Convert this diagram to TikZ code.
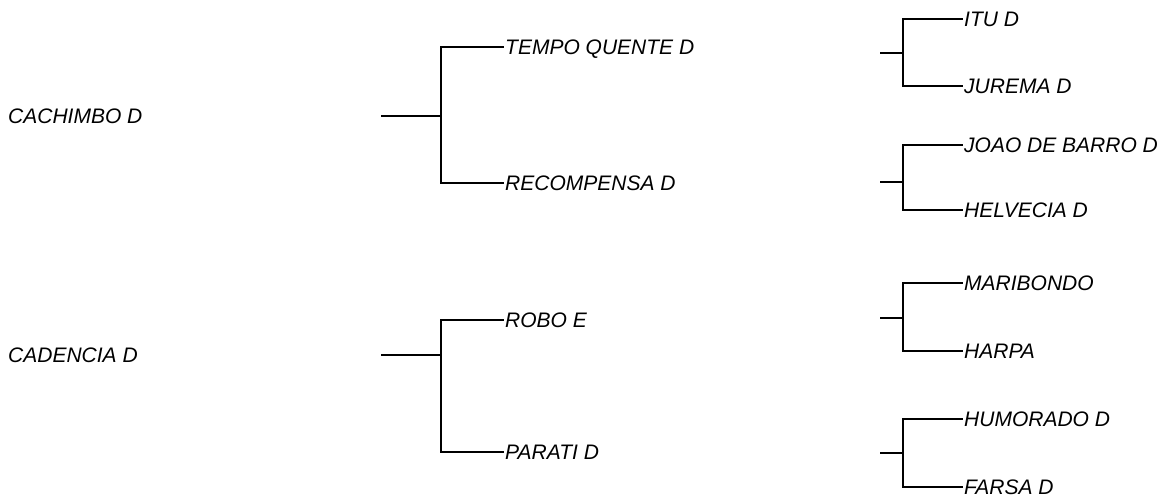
\documentclass[tikz,border=0pt]{standalone}
\usepackage{fontspec}
\setmainfont{Liberation Sans}

\begin{document}
\begin{tikzpicture}[x=1pt, y=-1pt,
        branch/.style={line width=2.8pt, line cap=rect},
        horse/.style={anchor=west, inner xsep=2pt, inner ysep=0pt,
            text height=15pt, text depth=0pt,
            font=\fontsize{21}{24}\selectfont\itshape}]
        \useasboundingbox (0, 0) rectangle (1167, 495);

        \begin{scope}
            \node[horse] (cachimbo) at (6, 116) {CACHIMBO D};
            \node[horse] (cadencia) at (6, 355) {CADENCIA D};

            \node[horse] (tempo)      at (503, 47)  {TEMPO QUENTE D};
            \node[horse] (recompensa) at (503, 183) {RECOMPENSA D};
            \node[horse] (robo)       at (503, 320) {ROBO E};
            \node[horse] (parati)     at (503, 452) {PARATI D};

            \node[horse] (itu)      at (962, 19)  {ITU D};
            \node[horse] (jurema)   at (962, 86)  {JUREMA D};
            \node[horse] (joao)     at (962, 145) {JOAO DE BARRO D};
            \node[horse] (helvecia) at (962, 210) {HELVECIA D};
            \node[horse] (maribondo) at (962, 283) {MARIBONDO};
            \node[horse] (harpa)     at (962, 351) {HARPA};
            \node[horse] (humorado)  at (962, 419) {HUMORADO D};
            \node[horse] (farsa)     at (962, 487) {FARSA D};

            \coordinate (s1) at (382, 116); \coordinate (j1) at (441, 116);
            \coordinate (s2) at (382, 355); \coordinate (j2) at (441, 355);
            \coordinate (s3) at (881, 53);  \coordinate (j3) at (903, 53);
            \coordinate (s4) at (881, 182); \coordinate (j4) at (903, 182);
            \coordinate (s5) at (881, 318); \coordinate (j5) at (903, 318);
            \coordinate (s6) at (881, 453); \coordinate (j6) at (903, 453);

            \draw[branch] (s1) -- (j1);
            \draw[branch] (tempo.west) -| (j1) |- (recompensa.west);
            \draw[branch] (s2) -- (j2);
            \draw[branch] (robo.west) -| (j2) |- (parati.west);

            \draw[branch] (s3) -- (j3);
            \draw[branch] (itu.west) -| (j3) |- (jurema.west);
            \draw[branch] (s4) -- (j4);
            \draw[branch] (joao.west) -| (j4) |- (helvecia.west);
            \draw[branch] (s5) -- (j5);
            \draw[branch] (maribondo.west) -| (j5) |- (harpa.west);
            \draw[branch] (s6) -- (j6);
            \draw[branch] (humorado.west) -| (j6) |- (farsa.west);
        \end{scope}

    \end{tikzpicture}
\end{document}
